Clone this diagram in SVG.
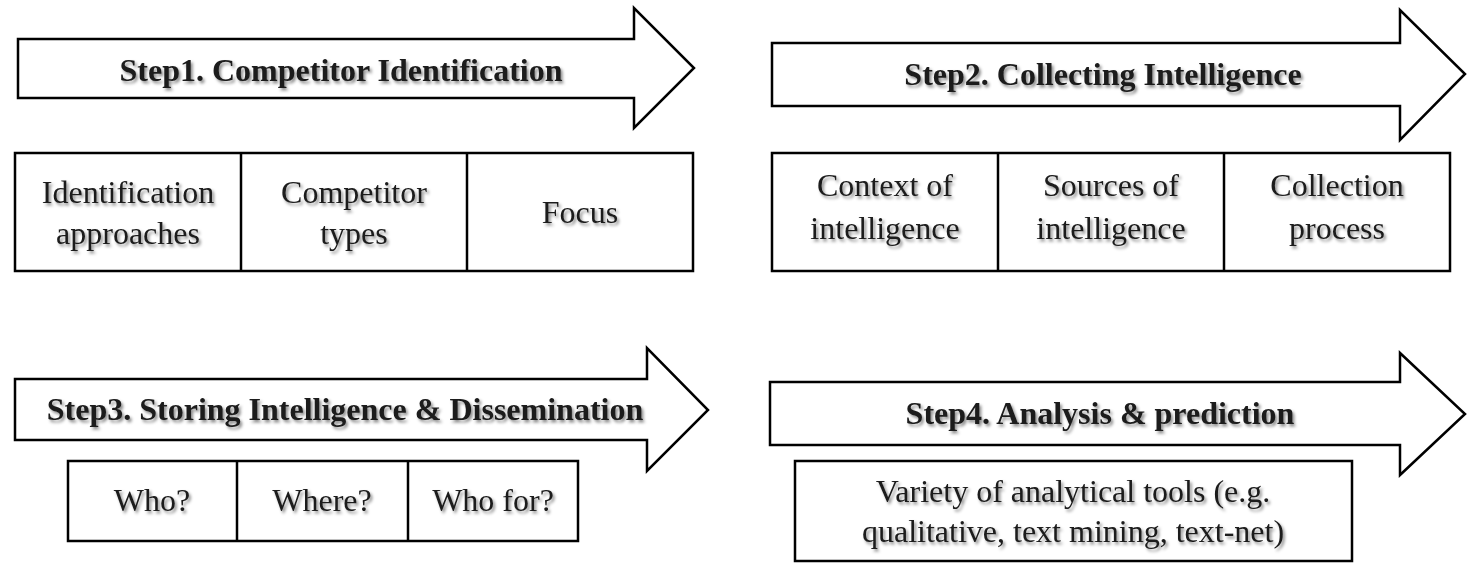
<svg xmlns="http://www.w3.org/2000/svg" width="1469" height="564" viewBox="0 0 1469 564">
<defs>
<filter id="sh" x="-5%" y="-20%" width="110%" height="150%">
<feDropShadow dx="2" dy="2.5" stdDeviation="1.6" flood-color="#000" flood-opacity="0.45"/>
</filter>
</defs>
<style>
.arrow{fill:#fff;stroke:#000;stroke-width:2.5;stroke-linejoin:miter}
.box{fill:#fff;stroke:#000;stroke-width:2.5}
.div{stroke:#000;stroke-width:2.5}
.title{font-family:"Liberation Serif","Times New Roman",serif;font-weight:bold;font-size:32px;fill:#1a1a1a;text-anchor:middle;filter:url(#sh)}
.t{font-family:"Liberation Serif","Times New Roman",serif;font-size:32px;fill:#1a1a1a;text-anchor:middle;filter:url(#sh)}
</style>
<rect width="1469" height="564" fill="#fff"/>
<g id="step1">
<polygon class="arrow" points="18,39 634,39 634,8 694,68 634,128 634,98 18,98"/>
<text class="title" x="341" y="81">Step1. Competitor Identification</text>
</g>
<g id="step1-items">
<rect class="box" x="15" y="153" width="678" height="118"/>
<line class="div" x1="241" y1="153" x2="241" y2="271"/>
<line class="div" x1="467" y1="153" x2="467" y2="271"/>
<text class="t" x="128" y="203">Identification</text>
<text class="t" x="128" y="244">approaches</text>
<text class="t" x="354" y="203">Competitor</text>
<text class="t" x="354" y="244">types</text>
<text class="t" x="580" y="223">Focus</text>
</g>
<g id="step2">
<polygon class="arrow" points="772,43 1400,43 1400,10 1465,74 1400,140 1400,106 772,106"/>
<text class="title" x="1103" y="85">Step2. Collecting Intelligence</text>
</g>
<g id="step2-items">
<rect class="box" x="772" y="153" width="678" height="118"/>
<line class="div" x1="998" y1="153" x2="998" y2="271"/>
<line class="div" x1="1224" y1="153" x2="1224" y2="271"/>
<text class="t" x="885" y="196">Context of</text>
<text class="t" x="885" y="239">intelligence</text>
<text class="t" x="1111" y="196">Sources of</text>
<text class="t" x="1111" y="239">intelligence</text>
<text class="t" x="1337" y="196">Collection</text>
<text class="t" x="1337" y="239">process</text>
</g>
<g id="step3">
<polygon class="arrow" points="15,379 647,379 647,348 708,410 647,471 647,440 15,440"/>
<text class="title" x="345" y="420">Step3. Storing Intelligence &amp; Dissemination</text>
</g>
<g id="step3-items">
<rect class="box" x="68" y="461" width="510" height="80"/>
<line class="div" x1="237" y1="461" x2="237" y2="541"/>
<line class="div" x1="408" y1="461" x2="408" y2="541"/>
<text class="t" x="152" y="511">Who?</text>
<text class="t" x="322" y="511">Where?</text>
<text class="t" x="493" y="511">Who for?</text>
</g>
<g id="step4">
<polygon class="arrow" points="770,382 1400,382 1400,353 1465,414 1400,475 1400,445 770,445"/>
<text class="title" x="1100" y="424">Step4. Analysis &amp; prediction</text>
</g>
<g id="step4-items">
<rect class="box" x="795" y="461" width="557" height="100"/>
<text class="t" x="1073" y="502">Variety of analytical tools (e.g.</text>
<text class="t" x="1073" y="542">qualitative, text mining, text-net)</text>
</g>
<g id="connectors"/>
</svg>
